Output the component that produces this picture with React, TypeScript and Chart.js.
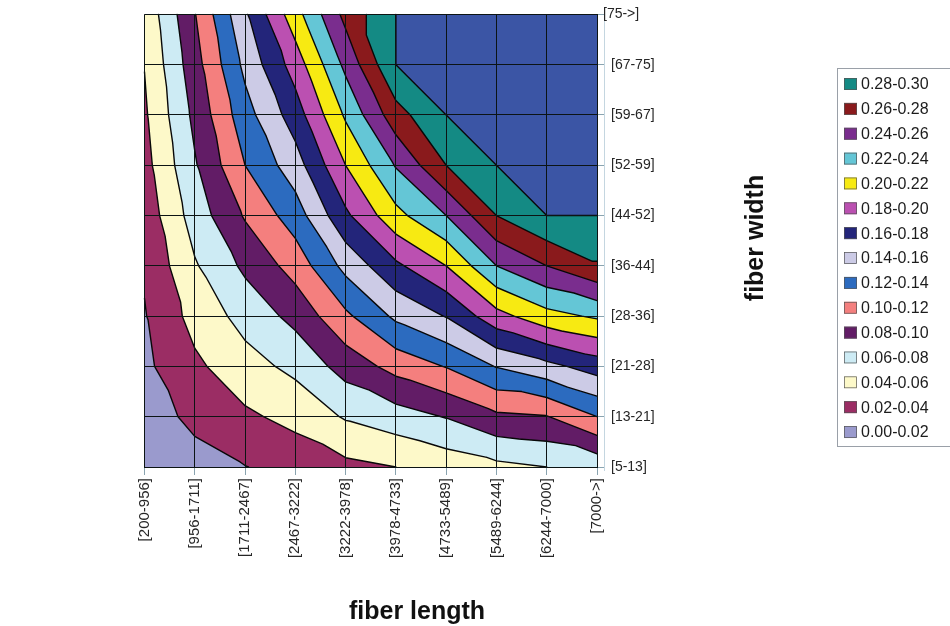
import React, { useEffect, useRef } from "react";
import { Chart, registerables } from "chart.js";

Chart.register(...registerables);

const FONT = "'Liberation Sans', Arial, Helvetica, sans-serif";

// Category labels
const lengthLabels = [
  "[200-956]", "[956-1711]", "[1711-2467]", "[2467-3222]", "[3222-3978]",
  "[3978-4733]", "[4733-5489]", "[5489-6244]", "[6244-7000]", "[7000->]",
];
const widthLabels = [
  "[5-13]", "[13-21]", "[21-28]", "[28-36]", "[36-44]",
  "[44-52]", "[52-59]", "[59-67]", "[67-75]", "[75->]",
];

// Surface values, one array per fiber-width class, one value per fiber-length class
const w5_13 = [0.006, 0.013, 0.0195, 0.027, 0.035, 0.040, 0.048, 0.055, 0.060, 0.066];
const w13_21 = [0.011, 0.0245, 0.0365, 0.046, 0.062, 0.071, 0.081, 0.096, 0.099, 0.120];
const w21_28 = [0.016, 0.036, 0.0525, 0.065, 0.088, 0.107, 0.121, 0.141, 0.154, 0.169];
const w28_36 = [0.0188, 0.047, 0.067, 0.086, 0.116, 0.144, 0.161, 0.193, 0.213, 0.223];
const w36_44 = [0.0222, 0.058, 0.084, 0.108, 0.146, 0.176, 0.200, 0.240, 0.260, 0.278];
const w44_52 = [0.0275, 0.069, 0.102, 0.130, 0.176, 0.214, 0.240, 0.280, 0.300, 0.300];
const w52_59 = [0.033, 0.078, 0.120, 0.151, 0.200, 0.2415, 0.280, 0.300, 0.300, 0.300];
const w59_67 = [0.037, 0.085, 0.132, 0.170, 0.223, 0.272, 0.300, 0.300, 0.300, 0.300];
const w67_75 = [0.0405, 0.092, 0.145, 0.189, 0.245, 0.300, 0.300, 0.300, 0.300, 0.300];
const w75_up = [0.045, 0.099, 0.157, 0.212, 0.266, 0.300, 0.300, 0.300, 0.300, 0.300];
const valueRows = [w5_13, w13_21, w21_28, w28_36, w36_44, w44_52, w52_59, w59_67, w67_75, w75_up];

// Contour bands
const bandLabels = [
  "0.00-0.02", "0.02-0.04", "0.04-0.06", "0.06-0.08", "0.08-0.10",
  "0.10-0.12", "0.12-0.14", "0.14-0.16", "0.16-0.18", "0.18-0.20",
  "0.20-0.22", "0.22-0.24", "0.24-0.26", "0.26-0.28", "0.28-0.30",
];
const bandFloors = [0.0, 0.02, 0.04, 0.06, 0.08, 0.1, 0.12, 0.14, 0.16, 0.18, 0.2, 0.22, 0.24, 0.26, 0.28, 0.3];
const bandColors = [
  "#9a9acd", "#9b2d64", "#fdf9c9", "#cdebf4", "#621c66",
  "#f47f7e", "#2c6bbf", "#cccbe6", "#23257a", "#bb50b1",
  "#f7ea12", "#64c6d6", "#7a2d8e", "#8a1a1c", "#148a84",
  "#3b55a5",
];

type Pt = { x: number; y: number; v: number };
const EPS = 1e-9;

function clipAbove(poly: Pt[], level: number): Pt[] {
  const out: Pt[] = [];
  const L = level - EPS;
  for (let k = 0; k < poly.length; k++) {
    const a = poly[k];
    const b = poly[(k + 1) % poly.length];
    const ain = a.v >= L;
    const bin = b.v >= L;
    if (ain) out.push(a);
    if (ain !== bin) {
      const t = (L - a.v) / (b.v - a.v);
      out.push({ x: a.x + t * (b.x - a.x), y: a.y + t * (b.y - a.y), v: L });
    }
  }
  return out;
}

function buildTriangles(chart: any): Pt[][] {
  const xs = chart.scales.x;
  const ys = chart.scales.y;
  const node = (i: number, j: number): Pt => ({
    x: xs.getPixelForValue(i),
    y: ys.getPixelForValue(j),
    v: valueRows[j][i],
  });
  const tris: Pt[][] = [];
  for (let j = 0; j < valueRows.length - 1; j++) {
    for (let i = 0; i < lengthLabels.length - 1; i++) {
      const bl = node(i, j);
      const br = node(i + 1, j);
      const tl = node(i, j + 1);
      const tr = node(i + 1, j + 1);
      tris.push([bl, br, tl]);
      tris.push([tl, br, tr]);
    }
  }
  return tris;
}

const contourPlugin = {
  id: "contourBands",
  beforeDraw(chart: any) {
    const { ctx } = chart;
    ctx.save();
    ctx.fillStyle = "#ffffff";
    ctx.fillRect(0, 0, chart.width, chart.height);
    const tris = buildTriangles(chart);
    for (let k = 0; k < bandFloors.length; k++) {
      ctx.beginPath();
      for (const t of tris) {
        const p = clipAbove(t, bandFloors[k]);
        if (p.length < 3) continue;
        ctx.moveTo(p[0].x, p[0].y);
        for (let m = 1; m < p.length; m++) ctx.lineTo(p[m].x, p[m].y);
        ctx.closePath();
      }
      ctx.fillStyle = bandColors[k];
      ctx.fill();
    }
    ctx.beginPath();
    for (let k = 1; k < bandFloors.length; k++) {
      const L = bandFloors[k] - EPS;
      for (const t of tris) {
        const pts: { x: number; y: number }[] = [];
        for (let e = 0; e < 3; e++) {
          const a = t[e];
          const b = t[(e + 1) % 3];
          const ain = a.v >= L;
          const bin = b.v >= L;
          if (ain !== bin) {
            const tt = (L - a.v) / (b.v - a.v);
            pts.push({ x: a.x + tt * (b.x - a.x), y: a.y + tt * (b.y - a.y) });
          }
        }
        if (pts.length === 2) {
          const d = Math.hypot(pts[0].x - pts[1].x, pts[0].y - pts[1].y);
          if (d > 0.05) {
            ctx.moveTo(pts[0].x, pts[0].y);
            ctx.lineTo(pts[1].x, pts[1].y);
          }
        }
      }
    }
    ctx.strokeStyle = "#080808";
    ctx.lineWidth = 1.4;
    ctx.lineJoin = "round";
    ctx.lineCap = "round";
    ctx.stroke();
    ctx.restore();
  },
  afterDraw(chart: any) {
    const { ctx, chartArea, scales } = chart;
    ctx.save();
    // light wall edge beside the plot
    ctx.strokeStyle = "#c4d6e0";
    ctx.lineWidth = 1;
    ctx.beginPath();
    ctx.moveTo(604.5, chartArea.top - 2);
    ctx.lineTo(604.5, chartArea.bottom + 4);
    ctx.stroke();

    // top width label sits tight against its tick, as in the original
    const topIdx = widthLabels.length - 1;
    ctx.fillStyle = "#262626";
    ctx.font = `14px ${FONT}`;
    ctx.textAlign = "left";
    ctx.textBaseline = "middle";
    ctx.fillText(widthLabels[topIdx], chartArea.right + 6, scales.y.getPixelForValue(topIdx));

    // legend
    ctx.strokeStyle = "#9aa0a8";
    ctx.lineWidth = 1;
    ctx.strokeRect(837.5, 68.5, 140, 378);
    ctx.font = `16px ${FONT}`;
    ctx.textAlign = "left";
    ctx.textBaseline = "middle";
    for (let r = 0; r < bandLabels.length; r++) {
      const k = bandLabels.length - 1 - r;
      const cy = 84 + r * 24.86;
      ctx.fillStyle = bandColors[k];
      ctx.fillRect(844, cy - 6, 13, 12);
      ctx.strokeStyle = "#555";
      ctx.lineWidth = 0.7;
      ctx.strokeRect(844.5, cy - 5.5, 12, 11);
      ctx.fillStyle = "#1c1c1c";
      ctx.fillText(bandLabels[k], 861, cy + 1);
    }

    // axis titles
    ctx.fillStyle = "#111";
    ctx.font = `bold 25px ${FONT}`;
    ctx.textAlign = "center";
    ctx.textBaseline = "alphabetic";
    ctx.fillText("fiber length", 417, 619);
    ctx.translate(763, 238);
    ctx.rotate(-Math.PI / 2);
    ctx.fillText("fiber width", 0, 0);
    ctx.restore();
  },
};

export default function App() {
  const canvasRef = useRef<HTMLCanvasElement | null>(null);

  useEffect(() => {
    const canvas = canvasRef.current;
    if (!canvas) return;
    const chart = new Chart(canvas, {
      type: "scatter",
      data: { datasets: [] },
      options: {
        animation: false,
        responsive: false,
        devicePixelRatio: 1,
        layout: { padding: { left: 144.5, top: 12.5, right: 0, bottom: 0 } },
        plugins: { legend: { display: false }, tooltip: { enabled: false } },
        scales: {
          x: {
            type: "linear",
            min: 0,
            max: 9,
            afterFit: (s: any) => {
              s.height = 626 - 467;
            },
            afterBuildTicks: (s: any) => {
              s.ticks = lengthLabels.map((_, i) => ({ value: i }));
            },
            grid: { color: "#0c1414", lineWidth: 1, tickLength: 8, tickColor: "#8aa4b0" },
            border: { color: "#0c1414", width: 1 },
            ticks: {
              autoSkip: false,
              minRotation: 90,
              maxRotation: 90,
              padding: 3,
              color: "#262626",
              font: { family: FONT, size: 15 },
              callback: (v: any) => lengthLabels[Math.round(Number(v))] ?? "",
            },
          },
          y: {
            type: "linear",
            position: "right",
            min: 0,
            max: 9,
            afterFit: (s: any) => {
              s.width = 950 - 597;
            },
            afterBuildTicks: (s: any) => {
              s.ticks = widthLabels.map((_, i) => ({ value: i }));
            },
            grid: { color: "#0c1414", lineWidth: 1, tickLength: 8, tickColor: "#8aa4b0" },
            border: { color: "#0c1414", width: 1 },
            ticks: {
              autoSkip: false,
              padding: 6,
              color: "#262626",
              font: { family: FONT, size: 14 },
              callback: (v: any) => {
                const idx = Math.round(Number(v));
                return idx === widthLabels.length - 1 ? "" : widthLabels[idx] ?? "";
              },
            },
          },
        },
      },
      plugins: [contourPlugin],
    });
    return () => chart.destroy();
  }, []);

  return (
    <div style={{ position: "absolute", left: 0, top: 0, width: 950, height: 626, background: "#fff" }}>
      <canvas ref={canvasRef} width={950} height={626} style={{ display: "block" }} />
    </div>
  );
}
